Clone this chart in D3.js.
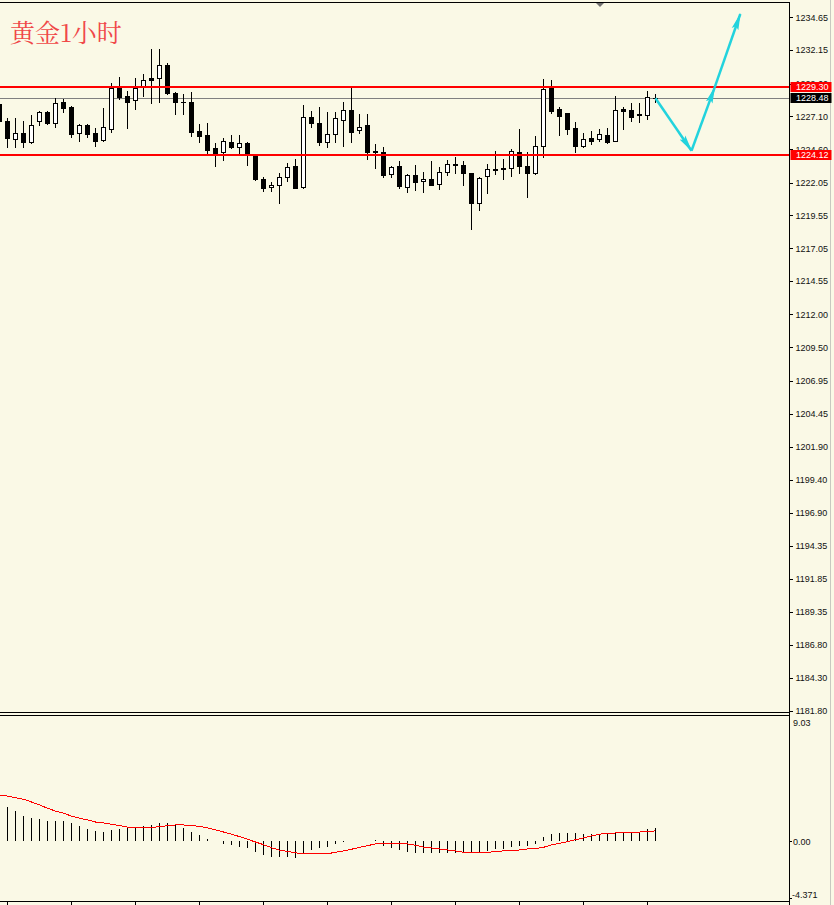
<!DOCTYPE html>
<html>
<head>
<meta charset="utf-8">
<script src="https://cdn.jsdelivr.net/npm/d3@7"></script>
<style>
  body { margin: 0; background: #FAF9E6; }
  svg { display: block; }
</style>
</head>
<body>
<script>
"use strict";

let width = 834;
let height = 905;

// hourly gold bars, oldest first (first bar is cut by the left edge)
let opens = [1228.04,1226.75,1225.40,1225.81,1225.17,1226.72,1227.43,1226.57,1228.19,1227.81,
  1225.81,1226.42,1225.81,1225.28,1226.16,1229.28,1228.65,1228.32,1229.36,1230.00,
  1230.00,1231.01,1228.86,1228.23,1228.19,1225.98,1225.68,1224.67,1224.36,1225.15,
  1224.74,1225.09,1224.08,1222.33,1221.69,1221.85,1222.50,1223.32,1221.69,1227.03,
  1226.57,1225.12,1225.73,1226.80,1227.56,1226.04,1226.44,1224.45,1224.38,1222.68,
  1223.29,1221.69,1222.61,1222.15,1222.33,1221.92,1222.84,1223.45,1223.37,1222.76,
  1220.47,1222.53,1223.09,1223.14,1223.14,1224.36,1223.32,1222.76,1224.82,1229.24,
  1227.64,1227.33,1226.19,1224.84,1225.47,1225.35,1225.68,1225.25,1227.64,1227.58,
  1227.25,1227.23,1228.52];
let highs = [1228.35,1226.98,1226.95,1226.75,1227.18,1227.53,1227.51,1228.48,1228.42,1227.89,
  1226.52,1226.48,1226.19,1227.71,1229.62,1230.10,1229.03,1230.02,1230.33,1232.23,
  1232.23,1231.14,1228.98,1228.80,1228.98,1226.52,1226.62,1225.09,1225.43,1225.68,
  1225.68,1225.15,1224.16,1222.50,1222.10,1222.81,1223.52,1223.85,1227.97,1227.51,
  1227.79,1227.41,1227.41,1228.17,1229.36,1227.28,1227.28,1224.99,1224.79,1223.32,
  1223.72,1222.68,1223.39,1222.84,1223.70,1223.22,1223.77,1223.98,1223.70,1222.82,
  1222.44,1223.45,1224.46,1223.83,1224.59,1226.11,1224.41,1225.60,1229.92,1229.87,
  1227.79,1227.37,1226.67,1225.81,1225.98,1226.11,1226.24,1228.65,1227.79,1228.10,
  1228.10,1229.03,1228.78];
let lows = [1226.59,1224.77,1224.79,1224.79,1225.09,1226.46,1226.52,1226.31,1227.46,1225.53,
  1225.25,1225.55,1224.84,1225.22,1225.93,1228.45,1226.21,1227.66,1228.67,1228.10,
  1228.17,1228.80,1227.26,1227.26,1225.63,1225.17,1224.23,1223.32,1223.77,1224.71,
  1224.33,1223.39,1222.25,1221.43,1221.41,1220.47,1222.20,1221.62,1221.64,1226.31,
  1224.92,1224.79,1225.12,1224.86,1225.17,1225.81,1223.85,1223.14,1222.50,1222.50,
  1221.66,1221.36,1221.49,1221.36,1221.85,1221.56,1222.65,1222.76,1221.87,1218.49,
  1219.96,1221.28,1222.68,1222.30,1222.58,1222.76,1220.93,1222.71,1223.98,1227.33,
  1225.68,1225.73,1224.35,1224.79,1224.99,1225.25,1225.05,1225.20,1226.16,1226.77,
  1226.65,1226.90,1228.17];
let closes = [1226.77,1225.47,1225.81,1225.17,1226.42,1227.43,1226.59,1228.12,1227.76,1225.78,
  1226.42,1225.78,1225.25,1226.27,1229.24,1228.58,1228.22,1229.24,1229.85,1229.89,
  1231.01,1228.86,1228.17,1228.16,1225.93,1225.64,1224.54,1224.33,1225.20,1224.79,
  1225.05,1224.16,1222.30,1221.66,1221.85,1222.50,1223.26,1221.66,1227.03,1226.57,
  1225.17,1225.76,1226.95,1227.56,1225.89,1226.27,1224.41,1224.37,1222.63,1223.22,
  1221.77,1222.61,1222.07,1222.33,1221.89,1222.84,1223.45,1223.38,1222.76,1220.47,
  1222.40,1223.07,1223.04,1223.08,1224.46,1223.34,1222.76,1224.82,1229.16,1227.53,
  1227.15,1226.14,1224.86,1225.35,1225.25,1225.73,1225.17,1227.56,1227.49,1227.07,
  1227.20,1228.55,1228.48];

// MACD (histogram) and signal line, one value per bar
let macdMain = [2.70,2.50,2.22,1.86,1.71,1.62,1.50,1.50,1.50,1.31,
  1.14,0.92,0.78,0.71,0.85,0.92,0.99,1.06,1.14,1.21,
  1.35,1.31,1.21,0.99,0.71,0.49,0.20,0.06,-0.18,-0.23,
  -0.37,-0.45,-0.73,-0.95,-1.09,-1.09,-1.09,-1.17,-0.85,-0.61,
  -0.45,-0.37,-0.20,-0.02,0.05,0.05,0.00,0.07,-0.30,-0.50,
  -0.61,-0.73,-0.81,-0.81,-0.85,-0.85,-0.85,-0.85,-0.85,-0.83,
  -0.81,-0.66,-0.56,-0.53,-0.37,-0.30,-0.30,-0.18,0.30,0.52,
  0.63,0.63,0.59,0.52,0.54,0.52,0.52,0.63,0.68,0.68,
  0.71,0.88,0.95];
let macdSignal = [3.30,3.27,3.15,3.04,2.84,2.63,2.39,2.19,2.03,1.83,
  1.67,1.55,1.40,1.33,1.24,1.14,1.04,0.97,0.97,1.02,
  1.06,1.14,1.19,1.19,1.14,1.09,0.97,0.83,0.68,0.52,
  0.35,0.16,-0.04,-0.23,-0.45,-0.63,-0.71,-0.81,-0.90,-0.90,
  -0.90,-0.88,-0.78,-0.68,-0.56,-0.42,-0.30,-0.18,-0.13,-0.13,
  -0.13,-0.18,-0.27,-0.40,-0.47,-0.54,-0.61,-0.68,-0.78,-0.78,
  -0.78,-0.78,-0.73,-0.68,-0.66,-0.61,-0.54,-0.52,-0.42,-0.25,
  -0.13,-0.01,0.13,0.25,0.40,0.52,0.59,0.61,0.68,0.68,
  0.68,0.71,0.76];

let priceTicks = ["1234.65","1232.15","1229.60","1227.10","1224.60","1222.05","1219.55",
  "1217.05","1214.55","1212.00","1209.50","1206.95","1204.45","1201.90","1199.40",
  "1196.90","1194.35","1191.85","1189.35","1186.80","1184.30","1181.80"];
let macdTicks = ["9.03","0.00","-4.371"];

let levels = [1229.30, 1224.12];
let lastPrice = 1228.48;

// forecast path drawn with cyan arrows (bar index, price)
let arrowBars = [82, 86.5, 89.4, 92.6];
let arrowPrices = [1228.48, 1224.48, 1229.31, 1234.90];

let title = "黄金1小时";

let bg = "#FAF9E6";
let plotRight = 789;

let svg = d3.select("body").append("svg").attr("width", width).attr("height", height)
  .style("background", bg);

let x = d3.scaleLinear().domain([0, 1]).range([-0.5, 7.5]);
let y = d3.scaleLinear().domain([1181.80, 1234.65]).range([710.7, 17.3]);
let ym = d3.scaleLinear().domain([-4.371, 9.03]).range([902.2, 716]);

let crisp = v => Math.round(v) + 0.5;

svg.append("defs").append("clipPath").attr("id", "plot")
  .append("rect").attr("x", 0).attr("y", 2).attr("width", plotRight).attr("height", 900);

let bars = d3.range(opens.length).map(i => ({
  i: i, o: opens[i], h: highs[i], l: lows[i], c: closes[i]
}));

// ---- price panel
let g = svg.append("g").attr("clip-path", "url(#plot)").attr("shape-rendering", "crispEdges");

g.append("line")
  .attr("x1", 0).attr("x2", plotRight)
  .attr("y1", crisp(y(lastPrice))).attr("y2", crisp(y(lastPrice)))
  .attr("stroke", "#808080");

let candle = g.selectAll(".candle").data(bars).enter().append("g").attr("class", "candle");

candle.append("line")
  .attr("x1", d => x(d.i)).attr("x2", d => x(d.i))
  .attr("y1", d => Math.round(y(d.h))).attr("y2", d => Math.round(y(d.l)) + 1)
  .attr("stroke", "#000");

candle.each(function (d) {
  let top = crisp(y(Math.max(d.o, d.c)));
  let bot = crisp(y(Math.min(d.o, d.c)));
  let sel = d3.select(this);
  if (bot - top < 1) {
    sel.append("line")
      .attr("x1", x(d.i) - 2.5).attr("x2", x(d.i) + 2.5)
      .attr("y1", top).attr("y2", top)
      .attr("stroke", "#000");
  } else {
    sel.append("rect")
      .attr("x", x(d.i) - 2).attr("width", 4)
      .attr("y", top).attr("height", bot - top)
      .attr("fill", d.c >= d.o ? "#fff" : "#000")
      .attr("stroke", "#000");
  }
});

g.selectAll(".level").data(levels).enter().append("line")
  .attr("class", "level")
  .attr("x1", 0).attr("x2", plotRight)
  .attr("y1", d => Math.round(y(d))).attr("y2", d => Math.round(y(d)))
  .attr("stroke", "#FF0000").attr("stroke-width", 2);

// forecast arrows
let defs = svg.select("defs");
defs.append("marker").attr("id", "head")
  .attr("viewBox", "0 0 17 10").attr("refX", 16).attr("refY", 5)
  .attr("markerWidth", 17).attr("markerHeight", 10)
  .attr("markerUnits", "userSpaceOnUse").attr("orient", "auto")
  .append("path").attr("d", "M0,1.5L17,5L0,8.5L3,5Z").attr("fill", "#22D3DD");

let arrows = d3.range(arrowBars.length - 1).map(k => [k, k + 1]);
svg.append("g").selectAll("line").data(arrows).enter().append("line")
  .attr("x1", d => x(arrowBars[d[0]])).attr("y1", d => y(arrowPrices[d[0]]))
  .attr("x2", d => x(arrowBars[d[1]])).attr("y2", d => y(arrowPrices[d[1]]))
  .attr("stroke", "#22D3DD").attr("stroke-width", 2.5)
  .attr("marker-end", "url(#head)");

// ---- MACD panel
let m = svg.append("g").attr("clip-path", "url(#plot)").attr("shape-rendering", "crispEdges");

m.selectAll(".hist").data(bars).enter().append("line")
  .attr("class", "hist")
  .attr("x1", d => x(d.i)).attr("x2", d => x(d.i))
  .attr("y1", Math.round(ym(0)))
  .attr("y2", d => Math.round(ym(macdMain[d.i])))
  .attr("stroke", "#000");

m.append("path")
  .datum(macdSignal)
  .attr("fill", "none").attr("stroke", "#FF0000").attr("stroke-width", 1)
  .attr("d", d3.line().x((d, i) => x(i)).y(d => ym(d)));

// ---- frames
let frame = svg.append("g").attr("stroke", "#000").attr("shape-rendering", "crispEdges");
frame.append("line").attr("x1", 0).attr("x2", plotRight + 0.5).attr("y1", 2.5).attr("y2", 2.5);
frame.append("line").attr("x1", 0).attr("x2", plotRight + 0.5).attr("y1", 712.5).attr("y2", 712.5);
frame.append("line").attr("x1", 0).attr("x2", plotRight + 0.5).attr("y1", 715.5).attr("y2", 715.5);
frame.append("line").attr("x1", 0).attr("x2", plotRight + 0.5).attr("y1", 901.5).attr("y2", 901.5);
frame.append("line").attr("x1", plotRight + 0.5).attr("x2", plotRight + 0.5).attr("y1", 2).attr("y2", 905);

svg.append("line").attr("x1", 830.5).attr("x2", 830.5).attr("y1", 0).attr("y2", height)
  .attr("stroke", "#c8c8c0").attr("shape-rendering", "crispEdges");

// little marker at the top border
svg.append("path").attr("d", "M596,3L604,3L600,7Z").attr("fill", "#707070");

// time ticks under the MACD panel
let timeTicks = d3.range(1, opens.length, 8).filter(i => x(i) < plotRight);
svg.append("g").selectAll("line").data(timeTicks).enter().append("line")
  .attr("x1", d => x(d)).attr("x2", d => x(d))
  .attr("y1", 902).attr("y2", 905)
  .attr("stroke", "#000").attr("shape-rendering", "crispEdges");

// ---- price axis
let axisFont = "'Liberation Sans', Arial, sans-serif";

let yAxis = d3.axisRight(y)
  .tickValues(priceTicks.map(Number))
  .tickFormat((d, i) => priceTicks[i])
  .tickSize(3).tickPadding(3);

svg.append("g").attr("transform", `translate(${plotRight + 0.5},0)`)
  .call(yAxis)
  .call(a => a.select(".domain").remove())
  .call(a => a.selectAll("line").attr("shape-rendering", "crispEdges"))
  .call(a => a.selectAll("text").attr("font-family", axisFont).attr("font-size", 9).attr("fill", "#111"));

// price tags
let tags = levels.map(v => ({ v: v, fill: "#FF0000", text: v.toFixed(2) }))
  .concat([{ v: lastPrice, fill: "#000", text: lastPrice.toFixed(2) }]);
let tag = svg.append("g").selectAll("g").data(tags).enter().append("g")
  .attr("transform", d => `translate(${plotRight + 1},${Math.round(y(d.v))})`);
tag.append("rect").attr("x", 0.5).attr("y", -5).attr("width", 41).attr("height", 10)
  .attr("fill", d => d.fill);
tag.append("text").attr("x", 6).attr("y", 0).attr("dy", "0.35em")
  .attr("font-family", axisFont).attr("font-size", 9).attr("fill", "#fff")
  .text(d => d.text);

// ---- MACD axis
let mAxis = svg.append("g").attr("font-family", axisFont).attr("font-size", 9).attr("fill", "#111");
mAxis.append("text").attr("x", 793).attr("y", ym(9.03) + 7).attr("dy", "0.35em").text(macdTicks[0]);
mAxis.append("line").attr("x1", plotRight).attr("x2", plotRight + 3)
  .attr("y1", crisp(ym(0))).attr("y2", crisp(ym(0))).attr("stroke", "#000")
  .attr("shape-rendering", "crispEdges");
mAxis.append("text").attr("x", 793).attr("y", ym(0)).attr("dy", "0.35em").text(macdTicks[1]);
mAxis.append("line").attr("x1", plotRight).attr("x2", plotRight + 3)
  .attr("y1", crisp(ym(-4.371)) - 4).attr("y2", crisp(ym(-4.371)) - 4).attr("stroke", "#000")
  .attr("shape-rendering", "crispEdges");
mAxis.append("text").attr("x", 792).attr("y", ym(-4.371) - 7).attr("dy", "0.35em").text(macdTicks[2]);

// ---- title
svg.append("text")
  .attr("x", 10).attr("y", 42)
  .attr("font-family", "'Noto Serif CJK SC', 'Noto Sans CJK SC', serif")
  .attr("font-size", 25)
  .attr("fill", "#F04848")
  .text(title);
</script>
</body>
</html>
